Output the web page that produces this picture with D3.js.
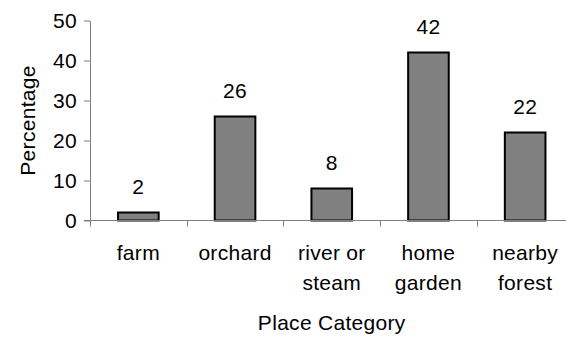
<!DOCTYPE html>
<html>
<head>
<meta charset="utf-8">
<script src="https://cdn.jsdelivr.net/npm/d3@7"></script>
<style>
  html, body { margin: 0; padding: 0; background: #fff; }
  svg { display: block; font-family: "Liberation Sans", Arial, sans-serif; }
  text { letter-spacing: 0.3px; }
</style>
</head>
<body>
<svg id="chart" width="566" height="337"></svg>
<script>
// Share of responses by place category
const categories = [["farm"], ["orchard"], ["river or", "steam"], ["home", "garden"], ["nearby", "forest"]];
const values = [2, 26, 8, 42, 22];
const yTicks = [0, 10, 20, 30, 40, 50];
const yLabel = "Percentage";
const xLabel = "Place Category";

const svg = d3.select("#chart");
const fontSize = 21;
const plotLeft = 90, plotRight = 573.5, plotTop = 20.5, plotBottom = 220.5;

const keys = categories.map(c => c.join(" "));
const x = d3.scaleBand().domain(keys).range([plotLeft, plotRight]).paddingInner(0.58).paddingOuter(0.29);
const xb = d3.scaleBand().domain(keys).range([plotLeft, plotRight]);
const y = d3.scaleLinear().domain([0, 50]).range([plotBottom, plotTop]);

const axisColor = "#808080";

// y axis
const yAxis = svg.append("g").attr("transform", `translate(${plotLeft},0)`)
  .call(d3.axisLeft(y).tickValues(yTicks).tickSize(6).tickSizeOuter(0).tickPadding(7));
yAxis.select(".domain").attr("stroke", axisColor);
yAxis.selectAll(".tick line").attr("stroke", axisColor);
yAxis.selectAll(".tick text").attr("font-size", fontSize)
  .attr("font-family", "Liberation Sans, Arial, sans-serif").attr("fill", "#000");

// bars
svg.append("g").selectAll("rect").data(values).join("rect")
  .attr("x", (d, i) => x(keys[i]))
  .attr("width", x.bandwidth())
  .attr("y", d => y(d))
  .attr("height", d => y(0) - y(d))
  .attr("fill", "#808080")
  .attr("stroke", "#000")
  .attr("stroke-width", 2);

// x axis line with ticks at band boundaries
const xg = svg.append("g");
xg.append("line").attr("x1", plotLeft - 6).attr("x2", plotRight).attr("y1", y(0)).attr("y2", y(0))
  .attr("stroke", axisColor);
const bounds = keys.map(k => xb(k)).concat([plotRight]);
xg.selectAll("line.tk").data(bounds).join("line").attr("class", "tk")
  .attr("x1", d => Math.round(d) + 0.5).attr("x2", d => Math.round(d) + 0.5)
  .attr("y1", y(0)).attr("y2", y(0) + 6)
  .attr("stroke", axisColor);

// value labels
svg.append("g").selectAll("text").data(values).join("text")
  .attr("x", (d, i) => x(keys[i]) + x.bandwidth() / 2)
  .attr("y", d => y(d) - 19)
  .attr("text-anchor", "middle")
  .attr("font-size", fontSize)
  .text(d => d);

// category labels
const cl = svg.append("g").selectAll("text").data(categories).join("text")
  .attr("x", (d, i) => xb(keys[i]) + xb.bandwidth() / 2)
  .attr("y", y(0) + 39)
  .attr("text-anchor", "middle")
  .attr("font-size", fontSize);
cl.selectAll("tspan").data(d => d).join("tspan")
  .attr("x", function () { return this.parentNode.getAttribute("x"); })
  .attr("dy", (d, i) => i === 0 ? 0 : 30)
  .text(d => d);

// axis titles
svg.append("text")
  .attr("x", (plotLeft + plotRight) / 2).attr("y", 330)
  .attr("text-anchor", "middle").attr("font-size", fontSize)
  .text(xLabel);
svg.append("text")
  .attr("transform", `translate(34.5,${(plotTop + plotBottom) / 2}) rotate(-90)`)
  .attr("text-anchor", "middle").attr("font-size", fontSize)
  .text(yLabel);
</script>
</body>
</html>
